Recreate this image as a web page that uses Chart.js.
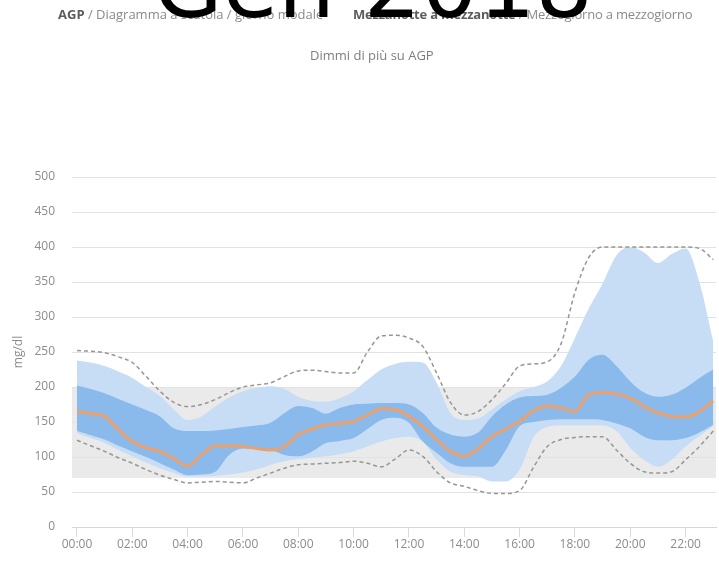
<!DOCTYPE html>
<html>
<head>
<meta charset="utf-8">
<script src="https://cdn.jsdelivr.net/npm/chart.js@4"></script>
<style>
  html, body { margin: 0; padding: 0; background: #fff; }
  body { width: 719px; height: 562px; position: relative; overflow: hidden; font-family: "Open Sans", sans-serif; }
  #wrap { position: absolute; left: 0; top: 0; width: 719px; height: 562px; }
  .hdr { position: absolute; top: 5px; font-size: 13px; line-height: 18px; color: #8a8a8a; white-space: nowrap; }
  .hdr b { color: #5c5c5c; font-weight: 700; }
  #left { left: 58px; }
  #right { left: 353px; letter-spacing: -0.2px; }
  #more { position: absolute; top: 46px; left: 310px; font-size: 13px; line-height: 18px; color: #7e7e7e; white-space: nowrap; }
  #big { position: absolute; left: 153px; top: -59px; font: 90px/90px "DejaVu Sans", sans-serif; color: #000; white-space: nowrap; }
</style>
</head>
<body>
<div id="wrap"><canvas id="agp" width="719" height="562"></canvas></div>
<div class="hdr" id="left"><b>AGP</b> / Diagramma a scatola / giorno modale</div>
<div class="hdr" id="right"><b>Mezzanotte a mezzanotte</b> / Mezzogiorno a mezzogiorno</div>
<div id="more">Dimmi di più su AGP</div>
<div id="big">Gen 2018</div>
<script>
// Hours of the day (half-hour steps)
const HOURS = [0,0.5,1,1.5,2,2.5,3,3.5,4,4.5,5,5.5,6,6.5,7,7.5,8,8.5,9,9.5,10,10.5,11,11.5,12,12.5,13,13.5,14,14.5,15,15.5,16,16.5,17,17.5,18,18.5,19,19.5,20,20.5,21,21.5,22,22.5,23];

// Glucose percentiles, mg/dl
const P95 = [252,251,249,243,235,215,194,178,172,175,182,192,200,203,206,215,223,224,222,220,220,250,273,274,270,258,220,178,160,165,182,205,230,233,236,262,335,385,400,400,400,400,400,400,400,398,382];
const P90 = [238,235,230,222,213,200,187,168,153,158,172,185,194,199,201,197,186,180,179,184,194,210,225,233,236,235,206,163,153,155,168,182,194,200,208,230,270,312,348,388,400,392,377,390,398,350,265];
const P75 = [202,197,191,183,175,167,158,141,137,137,138,140,143,145,149,163,173,170,162,170,175,176,177,177,175,163,142,132,129,135,158,175,185,187,189,199,215,239,246,230,208,192,186,189,199,213,225];
const P50 = [165,162,158,139,122,113,108,98,87,103,116,116,115,112,110,115,132,140,146,148,151,160,169,168,158,144,125,108,101,112,129,140,151,166,173,170,165,189,192,190,184,172,163,158,157,165,180];
const P25 = [137,131,125,116,108,100,91,82,74,75,79,103,112,111,110,103,101,108,120,123,127,140,153,156,149,122,106,91,86,86,86,110,144,150,153,154,154,154,153,148,141,129,124,124,127,135,146];
const P10 = [134,127,120,110,101,92,84,77,72,72,73,75,78,82,89,94,97,99,101,104,108,115,122,127,129,122,96,79,74,72,65,65,82,128,143,145,145,145,145,137,113,96,86,96,115,130,144];
const P5  = [124,116,108,99,91,82,74,68,63,64,65,64,63,70,77,84,89,90,91,92,94,91,86,97,110,101,79,63,58,52,48,48,52,85,115,125,128,129,129,110,91,79,77,79,96,115,137];

// Target range, mg/dl
const TARGET_RANGE = [70, 200];

const series = arr => HOURS.map((h, i) => ({ x: h, y: arr[i] }));

const COLORS = {
  outer: 'rgb(198,221,245)',
  inner: 'rgb(138,185,236)',
  median: 'rgb(236,160,108)',
  dashed: 'rgb(150,150,150)',
  target: 'rgb(234,234,234)',
  grid: 'rgb(226,226,226)',
  text: '#8c8c8c'
};

// Shaded target range behind everything
const targetBand = {
  id: 'targetBand',
  beforeDraw(chart) {
    const { ctx, chartArea: a, scales: { y } } = chart;
    const top = y.getPixelForValue(TARGET_RANGE[1]);
    const bot = y.getPixelForValue(TARGET_RANGE[0]);
    ctx.save();
    ctx.fillStyle = COLORS.target;
    ctx.fillRect(a.left, top, a.right - a.left, bot - top);
    ctx.restore();
  }
};

Chart.defaults.font.family = '"Open Sans", sans-serif';

new Chart(document.getElementById('agp'), {
  type: 'line',
  data: {
    datasets: [
      { label: '50', data: series(P50), borderColor: COLORS.median, borderWidth: 3, fill: false, order: 0 },
      { label: '95', data: series(P95), borderColor: COLORS.dashed, borderWidth: 1.5, borderDash: [4, 3], fill: false, order: 1 },
      { label: '5', data: series(P5), borderColor: COLORS.dashed, borderWidth: 1.5, borderDash: [4, 3], fill: false, order: 1 },
      { label: '75', data: series(P75), borderWidth: 0, borderColor: COLORS.inner, backgroundColor: COLORS.inner, fill: 4, order: 2 },
      { label: '25', data: series(P25), borderWidth: 0, borderColor: COLORS.inner, fill: false, order: 2 },
      { label: '90', data: series(P90), borderWidth: 0, borderColor: COLORS.outer, backgroundColor: COLORS.outer, fill: 6, order: 3 },
      { label: '10', data: series(P10), borderWidth: 0, borderColor: COLORS.outer, fill: false, order: 3 }
    ]
  },
  options: {
    responsive: false,
    animation: false,
    layout: { padding: { top: 177, right: 3, left: 0, bottom: 0 } },
    elements: { point: { radius: 0 }, line: { cubicInterpolationMode: 'monotone' } },
    plugins: { legend: { display: false }, tooltip: { enabled: false } },
    scales: {
      x: {
        type: 'linear', min: -0.18, max: 23.1,
        ticks: {
          stepSize: 2, includeBounds: false, autoSkip: false, maxRotation: 0, padding: 0,
          color: COLORS.text, font: { size: 12 },
          callback: v => (v < 10 ? '0' : '') + v + ':00'
        },
        grid: { drawOnChartArea: false, drawTicks: true, tickLength: 10, color: 'rgb(218,218,218)' },
        border: { display: true, color: 'rgb(214,214,214)' },
        afterFit(s) { s.height = 35; }
      },
      y: {
        min: 0, max: 500,
        ticks: { stepSize: 50, padding: 17, color: COLORS.text, font: { size: 12 } },
        grid: { color: COLORS.grid, drawTicks: false },
        border: { display: false },
        title: { display: true, text: 'mg/dl', color: COLORS.text, font: { size: 12 }, padding: { top: 11, bottom: 0 } },
        afterFit(s) { s.width = 72; }
      }
    }
  },
  plugins: [targetBand]
});
</script>
</body>
</html>
